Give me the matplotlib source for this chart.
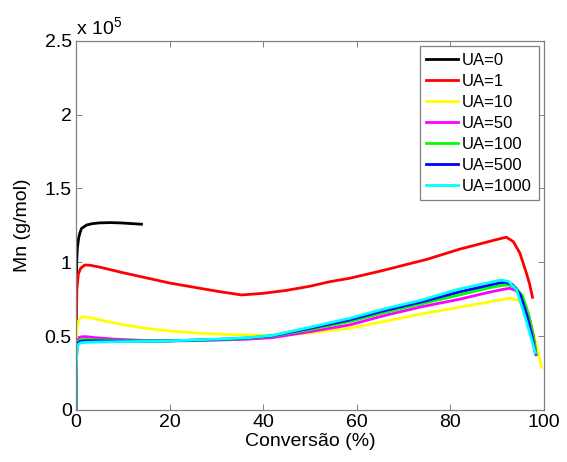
import matplotlib
matplotlib.use("Agg")
import matplotlib.pyplot as plt

plt.rcParams['font.family'] = ['Liberation Sans', 'DejaVu Sans']
plt.rcParams['mathtext.fontset'] = 'custom'
plt.rcParams['mathtext.rm'] = 'Liberation Sans'

# Mn in units of 1e5 g/mol vs conversion (%)
x_ua0 = [0, 0.05, 0.15, 0.3, 0.6, 0.85, 1.2, 2.3, 3.5, 5, 7.3, 9.5, 12, 14]
mn_ua0 = [0, 0.7, 1.0, 1.1, 1.17, 1.2, 1.23, 1.253, 1.262, 1.267, 1.269, 1.267, 1.262, 1.258]

x_ua1 = [0, 0.05, 0.2, 0.5, 1, 1.9, 3, 5, 10, 15, 20, 26.5, 31, 35.4, 40, 45, 50,
         54.3, 58.5, 65, 70, 75, 82, 87, 90, 92, 93.5, 94.9, 96.3, 97.0, 97.6]
mn_ua1 = [0, 0.55, 0.82, 0.92, 0.96, 0.982, 0.98, 0.968, 0.93, 0.895, 0.86, 0.824, 0.80,
          0.779, 0.79, 0.81, 0.838, 0.869, 0.892, 0.94, 0.98, 1.02, 1.089, 1.13, 1.155,
          1.17, 1.14, 1.062, 0.926, 0.85, 0.763]

x_ua10 = [0, 0.05, 0.2, 0.5, 1, 1.6, 3, 5, 10, 15, 20, 26.5, 32, 37.2, 42, 45, 50,
          58.5, 66, 73.5, 82, 88, 92.7, 94.5, 96, 97.3, 98.5, 99.5]
mn_ua10 = [0, 0.40, 0.55, 0.60, 0.625, 0.632, 0.626, 0.61, 0.578, 0.553, 0.535, 0.52,
           0.512, 0.508, 0.506, 0.508, 0.522, 0.553, 0.60, 0.648, 0.696, 0.73, 0.757,
           0.745, 0.70, 0.58, 0.43, 0.289]

x_ua50 = [0, 0.05, 0.2, 0.5, 1, 2, 4, 8, 15, 20, 26, 32, 37, 42, 50, 58.5, 66, 74,
          82, 88, 91, 92.7, 94, 95.5, 96.8, 97.8, 98.4]
mn_ua50 = [0, 0.30, 0.44, 0.48, 0.495, 0.497, 0.49, 0.48, 0.47, 0.468, 0.47, 0.475,
           0.48, 0.49, 0.53, 0.576, 0.64, 0.70, 0.75, 0.795, 0.815, 0.824, 0.81, 0.76,
           0.64, 0.50, 0.373]

x_ua100 = [0, 0.05, 0.2, 0.5, 1, 2, 4, 8, 15, 20, 26, 32, 37, 42, 50, 58.5, 66, 74,
           82, 88, 91, 92.4, 94, 95.5, 96.8, 97.8, 98.3]
mn_ua100 = [0, 0.29, 0.43, 0.465, 0.475, 0.478, 0.475, 0.47, 0.468, 0.468, 0.472,
            0.478, 0.486, 0.50, 0.545, 0.598, 0.66, 0.72, 0.779, 0.825, 0.843, 0.847,
            0.83, 0.77, 0.64, 0.49, 0.38]

x_ua500 = [0, 0.05, 0.2, 0.5, 1, 2, 4, 8, 15, 20, 26, 32, 37, 42, 50, 58.5, 66, 74,
           82, 88, 90.5, 91.7, 93.3, 95, 96.5, 97.5, 98.2]
mn_ua500 = [0, 0.28, 0.42, 0.455, 0.465, 0.468, 0.468, 0.466, 0.466, 0.468, 0.474,
            0.48, 0.488, 0.503, 0.553, 0.61, 0.673, 0.733, 0.80, 0.843, 0.86, 0.865,
            0.85, 0.78, 0.63, 0.50, 0.385]

x_ua1000 = [0, 0.05, 0.2, 0.5, 1, 2, 4, 8, 15, 20, 26, 32, 37, 42, 50, 58.5, 66, 74,
            82, 88, 90, 91, 92.5, 94.2, 96, 97.2, 98.2]
mn_ua1000 = [0, 0.27, 0.41, 0.445, 0.455, 0.458, 0.46, 0.462, 0.465, 0.468, 0.475,
             0.482, 0.49, 0.505, 0.56, 0.621, 0.685, 0.745, 0.82, 0.86, 0.875, 0.88,
             0.87, 0.813, 0.632, 0.50, 0.388]

series = [
    (x_ua0, mn_ua0, 'k', 'UA=0'),
    (x_ua1, mn_ua1, '#ff0000', 'UA=1'),
    (x_ua10, mn_ua10, '#ffff00', 'UA=10'),
    (x_ua50, mn_ua50, '#ff00ff', 'UA=50'),
    (x_ua100, mn_ua100, '#00ff00', 'UA=100'),
    (x_ua500, mn_ua500, '#0000ff', 'UA=500'),
    (x_ua1000, mn_ua1000, '#00ffff', 'UA=1000'),
]

fig = plt.figure(figsize=(5.67, 4.62), dpi=100)
ax = fig.add_axes([0.134, 0.1126, 0.825, 0.799])

for xs, ys, c, lab in series:
    ax.plot(xs, ys, color=c, lw=2.0, label=lab, solid_joinstyle='round')

ax.set_xlim(0, 100)
ax.set_ylim(0, 2.5)
ax.set_xticks([0, 20, 40, 60, 80, 100])
ax.set_yticks([0, 0.5, 1, 1.5, 2, 2.5])
ax.set_yticklabels(['0', '0.5', '1', '1.5', '2', '2.5'])

for s in ax.spines.values():
    s.set_color('#808080')
    s.set_linewidth(0.9)
ax.tick_params(direction='in', length=4, width=0.7, color='#808080',
               labelsize=14, top=True, right=True, pad=3)

ax.set_xlabel('Conversão (%)', fontsize=14, labelpad=1)
ax.set_ylabel('Mn (g/mol)', fontsize=14, labelpad=10)
ax.text(0.0, 1.006, r'x 10$^5$', transform=ax.transAxes, fontsize=14,
        ha='left', va='bottom')

leg = ax.legend(loc='upper right', fontsize=12, frameon=True, fancybox=False,
                handlelength=1.9, handletextpad=0.25, labelspacing=0.36,
                borderpad=0.4, borderaxespad=0.3)
leg.get_frame().set_edgecolor('#606060')
leg.get_frame().set_linewidth(0.9)

fig.savefig("out.png", dpi=100)
